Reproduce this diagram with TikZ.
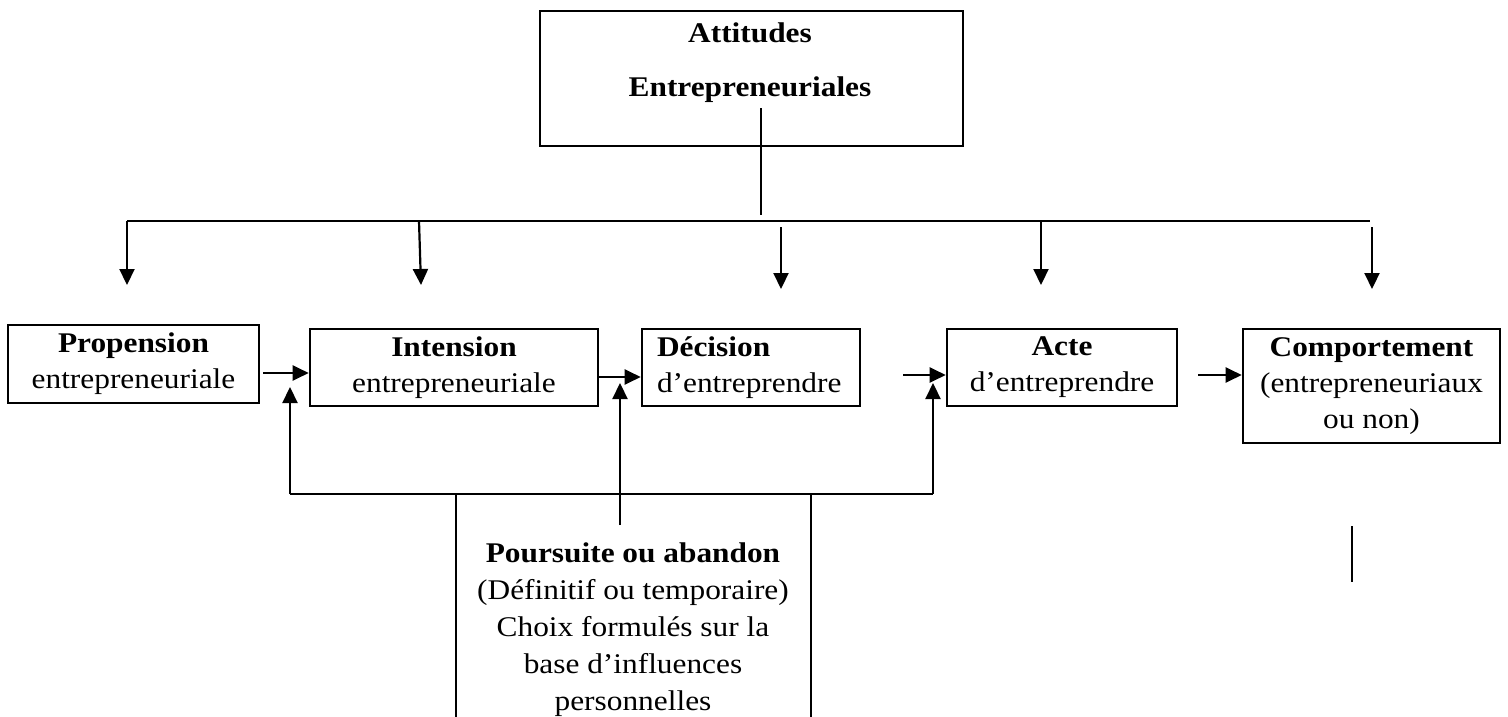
\documentclass[tikz,border=0pt]{standalone}
\usepackage{fontspec}
\setmainfont{Liberation Serif}[FakeStretch=1.1]
\usetikzlibrary{arrows.meta}
\begin{document}
\begin{tikzpicture}[x=1pt,y=-1pt,
  txt/.style={font=\fontsize{28.5}{36}\selectfont},
  box/.style={draw, line width=2.6pt, rectangle, inner sep=0pt, align=center, txt},
  conn/.style={line width=2.2pt},
  thinline/.style={line width=1.6pt},
  arr/.style={conn, -{Triangle[length=16pt,width=15pt]}}]
\useasboundingbox (0,0) rectangle (1508,717);

% top box
\node[box, minimum width=423pt, minimum height=135pt] (att) at (751.5,78.5) {};
\node[txt, font=\bfseries\fontsize{28.5}{36}\selectfont, align=center, inner sep=0pt] (attT) at (750,63) {Attitudes\\[18pt]Entrepreneuriales};

% main boxes
\node[box, minimum width=251pt, minimum height=78pt] (prop) at (133.5,364) {\textbf{Propension}\\entrepreneuriale};
\node[box, minimum width=288pt, minimum height=77pt] (int) at (454,367.5) {\textbf{Intension}\\entrepreneuriale};
\node[box, minimum width=218pt, minimum height=77pt, text width=188pt, align=left, inner xsep=15pt] (dec) at (751,367.5) {\textbf{Décision}\\d’entreprendre};
\node[box, minimum width=230pt, minimum height=77pt] (acte) at (1062,367.5) {\textbf{Acte}\\d’entreprendre};
\node[box, minimum width=257pt, minimum height=114pt] (comp) at (1371.5,386) {\textbf{Comportement}\\(entrepreneuriaux\\ou non)};

% stem and bus
\coordinate (stem) at (761,108);
\coordinate (stemE) at (761,215);
\draw[thinline] (stem) -- (stemE);
\coordinate (busL) at (127,221);
\coordinate (busR) at (1370,221);
\draw[conn] (busL) -- (busR);

% drops
\foreach \n/\xa/\ya/\xb/\yb in {1/127/221/127/285, 2/419/221/421/285, 3/781/227/781/289, 4/1041/221/1041/285, 5/1372/227/1372/289}{
  \coordinate (d\n s) at (\xa,\ya);
  \coordinate (d\n e) at (\xb,\yb);
  \draw[arr] (d\n s) -- (d\n e);
}

% horizontal arrows
\coordinate (h1) at (0,373);
\coordinate (h2) at (0,377);
\coordinate (h3) at (0,375);
\draw[arr, shorten <=3pt] (prop.east |- h1) -- (int.west |- h1);
\draw[arr] (int.east |- h2) -- (dec.west |- h2);
\draw[arr, shorten <=42pt] (dec.east |- h3) -- (acte.west |- h3);
\draw[arr, shorten <=20pt] (acte.east |- h3) -- (comp.west |- h3);

% Poursuite box
\coordinate (pbl) at (456,717);
\coordinate (ptl) at (456,494);
\coordinate (ptr) at (811,494);
\coordinate (pbr) at (811,717);
\draw[line width=2.6pt] (pbl) -- (ptl) -- (ptr) -- (pbr);
\node[font=\fontsize{28.5}{37}\selectfont, align=center, inner sep=0pt, anchor=north] (pours) at (633,542.5)
  {\textbf{Poursuite ou abandon}\\(Définitif ou temporaire)\\Choix formulés sur la\\base d’influences\\personnelles};

% feedback
\coordinate (fbL) at (290,494);
\coordinate (fbR) at (933,494);
\coordinate (fbLt) at (290,387);
\coordinate (fbRt) at (933,383);
\coordinate (pup) at (620,525);
\coordinate (pupt) at (620,383);
\draw[conn] (fbL) -- (fbR);
\draw[arr] (fbL) -- (fbLt);
\draw[arr] (fbR) -- (fbRt);
\draw[arr] (pup) -- (pupt);

% stray line at right
\coordinate (sl1) at (1352,526);
\coordinate (sl2) at (1352,582);
\draw[conn] (sl1) -- (sl2);
\end{tikzpicture}
\end{document}
